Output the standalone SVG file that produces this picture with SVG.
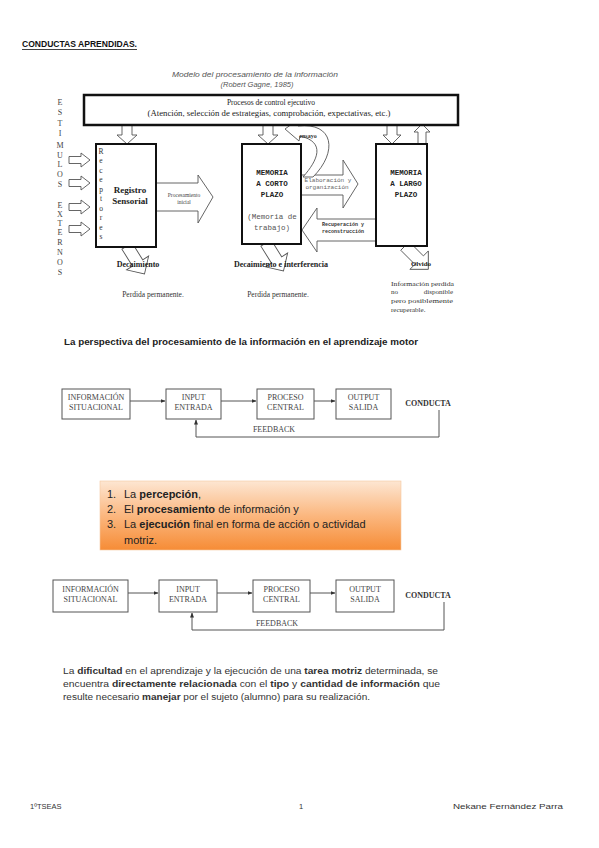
<svg xmlns="http://www.w3.org/2000/svg" width="599" height="848" viewBox="0 0 599 848">
<defs>
<linearGradient id="og" x1="0" y1="0" x2="0" y2="1">
<stop offset="0" stop-color="#fde6d2"/>
<stop offset="0.5" stop-color="#fbb77f"/>
<stop offset="1" stop-color="#f68c36"/>
</linearGradient>
<linearGradient id="tl" x1="0" y1="0" x2="1" y2="0">
<stop offset="0" stop-color="#9a9a9a"/>
<stop offset="0.6" stop-color="#e7b79a"/>
<stop offset="1" stop-color="#9a9a9a"/>
</linearGradient>
<marker id="ah" viewBox="0 0 10 10" refX="9" refY="5" markerWidth="5" markerHeight="5" orient="auto">
<path d="M0,1 L10,5 L0,9 Z" fill="#333"/>
</marker>
</defs>
<style>
.serif{font-family:"Liberation Serif","Times New Roman",serif;}
.sans{font-family:"Liberation Sans",Arial,sans-serif;}
.mono{font-family:"Liberation Mono","Courier New",monospace;}
.box{fill:#fff;stroke:#111;stroke-width:2;}
.harrow{fill:#fff;stroke:#555;stroke-width:0.9;}
.fbox{fill:#fff;stroke:#555;stroke-width:1;}
.fl{fill:none;stroke:#555;stroke-width:1;}
.ft{font-family:"Liberation Serif","Times New Roman",serif;font-size:8px;fill:#444;text-anchor:middle;}
.let{font-family:"Liberation Serif","Times New Roman",serif;font-size:8px;fill:#444;text-anchor:middle;}
.rec{font-family:"Liberation Serif","Times New Roman",serif;font-size:7.5px;fill:#333;text-anchor:middle;}
.cal{font-family:"Liberation Sans",Arial,sans-serif;font-size:8.4px;fill:#333;}
</style>
<rect width="599" height="848" fill="#fff"/>

<g id="page-title">
<text x="22" y="47" class="sans" font-size="9" font-weight="bold" textLength="115" lengthAdjust="spacingAndGlyphs" fill="#111">CONDUCTAS APRENDIDAS.</text>
<line x1="22" y1="49.5" x2="137" y2="49.5" stroke="#111" stroke-width="0.8"/>
</g>

<g id="model-title">
<line x1="358" y1="69" x2="453" y2="69" stroke="url(#tl)" stroke-width="1.5"/>
<text x="255" y="77" class="sans" font-size="7.5" font-style="italic" fill="#555" text-anchor="middle" textLength="166" lengthAdjust="spacingAndGlyphs">Modelo del procesamiento de la información</text>
<text x="257" y="87" class="sans" font-size="7.5" font-style="italic" fill="#555" text-anchor="middle">(Robert Gagne, 1985)</text>
</g>

<g id="stimuli-label">
<text x="60" y="105" class="let">E</text>
<text x="60" y="115" class="let">S</text>
<text x="60" y="126" class="let">T</text>
<text x="60" y="136" class="let">I</text>
<text x="60" y="148" class="let">M</text>
<text x="60" y="158" class="let">U</text>
<text x="60" y="167" class="let">L</text>
<text x="60" y="177" class="let">O</text>
<text x="60" y="187" class="let">S</text>
<text x="60" y="208" class="let">E</text>
<text x="60" y="217" class="let">X</text>
<text x="60" y="226" class="let">T</text>
<text x="60" y="235" class="let">E</text>
<text x="60" y="245" class="let">R</text>
<text x="60" y="255" class="let">N</text>
<text x="60" y="265" class="let">O</text>
<text x="60" y="275" class="let">S</text>
</g>

<g id="connectors-model">
<path class="harrow" d="M69,156.5 H81 V153 L90,160 L81,167 V163.5 H69 Z"/>
<path class="harrow" d="M69,179.5 H81 V176 L90,183 L81,190 V186.5 H69 Z"/>
<path class="harrow" d="M69,203.5 H81 V200 L90,207 L81,214 V210.5 H69 Z"/>
<path class="harrow" d="M69,225.5 H81 V222 L90,229 L81,236 V232.5 H69 Z"/>
<path class="harrow" d="M122,125 V135 H117 L127,144 L137,135 H132 V125 Z"/>
<path class="harrow" d="M263,125 V135 H258 L268,144 L278,135 H273 V125 Z"/>
<path class="harrow" d="M387,125 V135 H383 L392,144 L401,135 H397 V125 Z"/>
<path class="harrow" d="M418,144 V132 H414 L422,124 L430,132 H426 V144 Z"/>
<path class="harrow" d="M156,183 H198 V175 L213,197 L198,223 V211 H156 Z"/>
<path class="harrow" d="M301,175 H343 V160 L358,184 L343,208 V195 H301 Z"/>
<path class="harrow" d="M376,219 H317 V208 L302,230 L317,252 V241 H376 Z"/>
<path class="harrow" d="M303,177 C318,160 326,142 300,136 L299,141 L285,129 L296,121 L298,126 C334,122 338,152 313,177 Z"/>
<path class="harrow" transform="translate(127,246) rotate(58)" d="M0,-6 H20 V-13 L33,0 L20,13 V6 H0 Z"/>
<path class="harrow" transform="translate(266,243) rotate(58)" d="M0,-6 H20 V-13 L33,0 L20,13 V6 H0 Z"/>
<path class="harrow" transform="translate(405,246) rotate(45)" d="M0,-6 H20 V-13 L33,0 L20,13 V6 H0 Z"/>
</g>

<g id="control-box">
<rect x="84" y="95" width="374" height="30" fill="#fff" stroke="#111" stroke-width="2.5"/>
<text x="271" y="105" class="serif" font-size="7.5" text-anchor="middle" fill="#222">Procesos de control ejecutivo</text>
<text x="269" y="116" class="serif" font-size="7.3" text-anchor="middle" fill="#222" textLength="243" lengthAdjust="spacingAndGlyphs">(Atención, selección de estrategias, comprobación, expectativas, etc.)</text>
</g>

<g id="registro-sensorial">
<rect x="96" y="144" width="60" height="103" class="box"/>
<text x="101" y="154" class="rec">R</text>
<text x="101" y="163" class="rec">e</text>
<text x="101" y="173" class="rec">c</text>
<text x="101" y="182" class="rec">e</text>
<text x="101" y="192" class="rec">p</text>
<text x="101" y="201" class="rec">t</text>
<text x="101" y="211" class="rec">o</text>
<text x="101" y="220" class="rec">r</text>
<text x="101" y="230" class="rec">e</text>
<text x="101" y="239" class="rec">s</text>
<text x="130" y="193" class="serif" font-size="9" font-weight="bold" text-anchor="middle" fill="#222">Registro</text>
<text x="130" y="204" class="serif" font-size="9" font-weight="bold" text-anchor="middle" fill="#222">Sensorial</text>
</g>

<g id="arrow-labels">
<text x="184" y="197" class="serif" font-size="5.5" text-anchor="middle" fill="#444">Procesamiento</text>
<text x="184" y="204" class="serif" font-size="5.5" text-anchor="middle" fill="#444">inicial</text>
<text x="328" y="182" class="mono" font-size="6" text-anchor="middle" fill="#666">Elaboración y</text>
<text x="327" y="189" class="mono" font-size="6" text-anchor="middle" fill="#666">organización</text>
<text x="343" y="226" class="mono" font-size="5" font-weight="bold" text-anchor="middle" fill="#333">Recuperación y</text>
<text x="343" y="233" class="mono" font-size="5" font-weight="bold" text-anchor="middle" fill="#333">reconstrucción</text>
<text x="308" y="138" class="serif" font-size="6" font-weight="bold" text-anchor="middle" fill="#333">ensayo</text>
</g>

<g id="memoria-corto-plazo">
<rect x="242" y="144" width="59" height="100" class="box"/>
<text x="272" y="175" class="mono" font-size="7.5" font-weight="bold" text-anchor="middle" fill="#222">MEMORIA</text>
<text x="272" y="186" class="mono" font-size="7.5" font-weight="bold" text-anchor="middle" fill="#222">A CORTO</text>
<text x="272" y="197" class="mono" font-size="7.5" font-weight="bold" text-anchor="middle" fill="#222">PLAZO</text>
<text x="272" y="219" class="mono" font-size="7.5" text-anchor="middle" fill="#555">(Memoria de</text>
<text x="272" y="230" class="mono" font-size="7.5" text-anchor="middle" fill="#555">trabajo)</text>
</g>

<g id="memoria-largo-plazo">
<rect x="376" y="144" width="51" height="102" class="box"/>
<text x="406" y="175" class="mono" font-size="7.5" font-weight="bold" text-anchor="middle" fill="#222">MEMORIA</text>
<text x="406" y="186" class="mono" font-size="7.5" font-weight="bold" text-anchor="middle" fill="#222">A LARGO</text>
<text x="406" y="197" class="mono" font-size="7.5" font-weight="bold" text-anchor="middle" fill="#222">PLAZO</text>
</g>

<g id="loss-labels">
<text x="138" y="267" class="serif" font-size="8" font-weight="bold" text-anchor="middle" fill="#222">Decaimiento</text>
<text x="153" y="297" class="serif" font-size="7.5" text-anchor="middle" fill="#333">Perdida permanente.</text>
<text x="281" y="267" class="serif" font-size="8" font-weight="bold" text-anchor="middle" fill="#222">Decaimiento e interferencia</text>
<text x="278" y="297" class="serif" font-size="7.5" text-anchor="middle" fill="#333">Perdida permanente.</text>
<text x="421" y="266" class="serif" font-size="7" font-weight="bold" text-anchor="middle" fill="#222">Olvido</text>
<text x="391" y="286" class="serif" font-size="7" fill="#333" textLength="63" lengthAdjust="spacingAndGlyphs">Información perdida</text>
<text x="391" y="294" class="serif" font-size="7" fill="#333">no</text>
<text x="453" y="294" class="serif" font-size="7" fill="#333" text-anchor="end">disponible</text>
<text x="391" y="303" class="serif" font-size="7" fill="#333" textLength="62" lengthAdjust="spacingAndGlyphs">pero posiblemente</text>
<text x="391" y="312" class="serif" font-size="7" fill="#333">recuperable.</text>
</g>

<g id="section-title">
<text x="64" y="345" class="sans" font-size="8.8" font-weight="bold" fill="#222" textLength="354" lengthAdjust="spacingAndGlyphs">La perspectiva del procesamiento de la información en el aprendizaje motor</text>
</g>

<g id="connectors-flow1">
<line class="fl" x1="130" y1="401" x2="165" y2="401" marker-end="url(#ah)"/>
<line class="fl" x1="221" y1="401" x2="256" y2="401" marker-end="url(#ah)"/>
<line class="fl" x1="314" y1="401" x2="335" y2="401" marker-end="url(#ah)"/>
<polyline class="fl" points="439,410 439,437 196,437 196,420" marker-end="url(#ah)"/>
<text x="274" y="432" class="ft">FEEDBACK</text>
</g>
<g id="f1-info"><rect class="fbox" x="62" y="389" width="68" height="30"/><text class="ft" x="96" y="400">INFORMACIÓN</text><text class="ft" x="96" y="410">SITUACIONAL</text></g>
<g id="f1-input"><rect class="fbox" x="166" y="389" width="55" height="30"/><text class="ft" x="193.5" y="400">INPUT</text><text class="ft" x="193.5" y="410">ENTRADA</text></g>
<g id="f1-proceso"><rect class="fbox" x="257" y="389" width="57" height="30"/><text class="ft" x="285.5" y="400">PROCESO</text><text class="ft" x="285.5" y="410">CENTRAL</text></g>
<g id="f1-output"><rect class="fbox" x="336" y="389" width="55" height="30"/><text class="ft" x="363.5" y="400">OUTPUT</text><text class="ft" x="363.5" y="410">SALIDA</text></g>
<g id="f1-conducta"><text x="428" y="406" class="serif" font-size="8" font-weight="bold" text-anchor="middle" fill="#333">CONDUCTA</text></g>

<g id="orange-box">
<rect x="100" y="481" width="301" height="69" fill="url(#og)" stroke="#f4c8a0" stroke-width="0.6"/>
<g class="sans" font-size="11" fill="#222">
<text x="107" y="498">1.</text><text x="124" y="498">La <tspan font-weight="bold">percepción</tspan>,</text>
<text x="107" y="513">2.</text><text x="124" y="513">El <tspan font-weight="bold">procesamiento</tspan> de información y</text>
<text x="107" y="528">3.</text><text x="124" y="528">La <tspan font-weight="bold">ejecución</tspan> final en forma de acción o actividad</text>
<text x="124" y="544">motriz.</text>
</g>
</g>

<g id="connectors-flow2">
<line class="fl" x1="128" y1="593" x2="158" y2="593" marker-end="url(#ah)"/>
<line class="fl" x1="217" y1="593" x2="252" y2="593" marker-end="url(#ah)"/>
<line class="fl" x1="310" y1="593" x2="335" y2="593" marker-end="url(#ah)"/>
<polyline class="fl" points="444,602 444,630 192,630 192,613" marker-end="url(#ah)"/>
<text x="277" y="626" class="ft">FEEDBACK</text>
</g>
<g id="f2-info"><rect class="fbox" x="53" y="580" width="75" height="32"/><text class="ft" x="90.5" y="592">INFORMACIÓN</text><text class="ft" x="90.5" y="602">SITUACIONAL</text></g>
<g id="f2-input"><rect class="fbox" x="159" y="580" width="58" height="32"/><text class="ft" x="188" y="592">INPUT</text><text class="ft" x="188" y="602">ENTRADA</text></g>
<g id="f2-proceso"><rect class="fbox" x="253" y="580" width="57" height="32"/><text class="ft" x="281.5" y="592">PROCESO</text><text class="ft" x="281.5" y="602">CENTRAL</text></g>
<g id="f2-output"><rect class="fbox" x="336" y="580" width="58" height="32"/><text class="ft" x="365" y="592">OUTPUT</text><text class="ft" x="365" y="602">SALIDA</text></g>
<g id="f2-conducta"><text x="428" y="598" class="serif" font-size="8" font-weight="bold" text-anchor="middle" fill="#333">CONDUCTA</text></g>

<g id="paragraph">
<text x="63" y="674" class="cal" textLength="375" lengthAdjust="spacingAndGlyphs">La <tspan font-weight="bold">dificultad</tspan> en el aprendizaje y la ejecución de una <tspan font-weight="bold">tarea motriz</tspan>  determinada, se</text>
<text x="63" y="687" class="cal" textLength="377" lengthAdjust="spacingAndGlyphs">encuentra <tspan font-weight="bold">directamente relacionada</tspan> con el <tspan font-weight="bold">tipo</tspan> y <tspan font-weight="bold">cantidad de información</tspan> que</text>
<text x="63" y="700" class="cal" textLength="307" lengthAdjust="spacingAndGlyphs">resulte necesario <tspan font-weight="bold">manejar</tspan> por el sujeto (alumno) para su realización.</text>
</g>

<g id="footer" class="cal">
<text x="30" y="809" font-size="7.5">1ºTSEAS</text>
<text x="299" y="809" font-size="7.5">1</text>
<text x="453" y="809" font-size="7.5" textLength="110" lengthAdjust="spacingAndGlyphs">Nekane Fernández Parra</text>
</g>
</svg>
